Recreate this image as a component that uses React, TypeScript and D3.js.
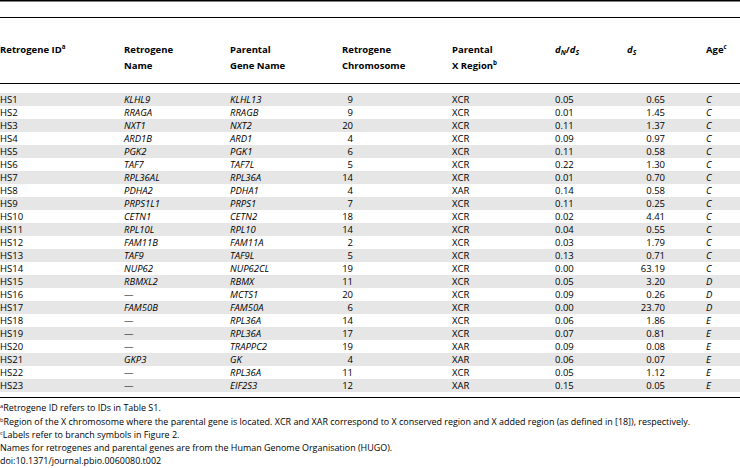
import React from "react";
import * as d3 from "d3";

const ids = ["HS1","HS2","HS3","HS4","HS5","HS6","HS7","HS8","HS9","HS10","HS11","HS12","HS13","HS14","HS15","HS16","HS17","HS18","HS19","HS20","HS21","HS22","HS23"];
const retroNames = ["KLHL9","RRAGA","NXT1","ARD1B","PGK2","TAF7","RPL36AL","PDHA2","PRPS1L1","CETN1","RPL10L","FAM11B","TAF9","NUP62","RBMXL2","—","FAM50B","—","—","—","GKP3","—","—"];
const parentalNames = ["KLHL13","RRAGB","NXT2","ARD1","PGK1","TAF7L","RPL36A","PDHA1","PRPS1","CETN2","RPL10","FAM11A","TAF9L","NUP62CL","RBMX","MCTS1","FAM50A","RPL36A","RPL36A","TRAPPC2","GK","RPL36A","EIF2S3"];
const chromosomes = [9,9,20,4,6,5,14,4,7,18,14,2,5,19,11,20,6,14,17,19,4,11,12];
const regions = ["XCR","XCR","XCR","XCR","XCR","XCR","XCR","XAR","XCR","XCR","XCR","XCR","XCR","XCR","XCR","XCR","XCR","XCR","XCR","XAR","XAR","XCR","XAR"];
const dnds = ["0.05","0.01","0.11","0.09","0.11","0.22","0.01","0.14","0.11","0.02","0.04","0.03","0.13","0.00","0.05","0.09","0.00","0.06","0.07","0.09","0.06","0.05","0.15"];
const ds = ["0.65","1.45","1.37","0.97","0.58","1.30","0.70","0.58","0.25","4.41","0.55","1.79","0.71","63.19","3.20","0.26","23.70","1.86","0.81","0.08","0.07","1.12","0.05"];
const ages = ["C","C","C","C","C","C","C","C","C","C","C","C","C","C","D","D","D","E","E","E","E","E","E"];

const W = 740;
const H = 468;
const FONT = "'Open Sans', 'Noto Sans', sans-serif";
const FS = 9.5;

export default function App() {
  const y = d3.scaleBand<string>().domain(ids).range([93, 392]).padding(0);
  const bh = y.bandwidth();
  const tx = (i: number) => (y(ids[i]) as number) + bh / 2 + 3.4;

  const footY = [411, 424.5, 438, 451, 464];

  return (
    <svg width={W} height={H} style={{ position: "absolute", left: 0, top: 0, background: "#fff" }} fontFamily={FONT} fontSize={FS} fill="#000">
      <rect x={0} y={0} width={W} height={H} fill="#fff" />
      <line x1={0} x2={W} y1={0.75} y2={0.75} stroke="#000" strokeWidth={1.5} />
      <line x1={0} x2={W} y1={17.5} y2={17.5} stroke="#000" strokeWidth={1} />
      <g fontWeight="bold">
        <text x={0} y={53}>Retrogene ID<tspan fontSize={6.2} dy={-4}>a</tspan></text>
        <text x={124} y={53}>Retrogene</text>
        <text x={124} y={69}>Name</text>
        <text x={230} y={53}>Parental</text>
        <text x={230} y={69}>Gene Name</text>
        <text x={342} y={53}>Retrogene</text>
        <text x={342} y={69}>Chromosome</text>
        <text x={452} y={53}>Parental</text>
        <text x={452} y={69}>X Region<tspan fontSize={6.2} dy={-4}>b</tspan></text>
        <text x={555} y={53}><tspan fontStyle="italic">d</tspan><tspan fontStyle="italic" fontSize={6.8} dy={2}>N</tspan><tspan dy={-2}>/</tspan><tspan fontStyle="italic">d</tspan><tspan fontStyle="italic" fontSize={6.8} dy={2}>S</tspan></text>
        <text x={627} y={53}><tspan fontStyle="italic">d</tspan><tspan fontStyle="italic" fontSize={6.8} dy={2}>S</tspan></text>
        <text x={706} y={53}>Age<tspan fontSize={6.2} dy={-4} fontStyle="italic">c</tspan></text>
      </g>
      <line x1={0} x2={W} y1={83.5} y2={83.5} stroke="#000" strokeWidth={1} />
      {ids.map((id, i) => (
        <g key={id}>
          {i % 2 === 0 && <rect x={0} y={y(id)} width={W} height={bh} fill="#e6e6e6" />}
          <text x={0} y={tx(i)}>{id}</text>
          <text x={124} y={tx(i)} fontStyle={retroNames[i] === "—" ? "normal" : "italic"}>{retroNames[i]}</text>
          <text x={230} y={tx(i)} fontStyle="italic">{parentalNames[i]}</text>
          <text x={353} y={tx(i)} textAnchor="end">{chromosomes[i]}</text>
          <text x={452} y={tx(i)}>{regions[i]}</text>
          <text x={555} y={tx(i)}>{dnds[i]}</text>
          <text x={665} y={tx(i)} textAnchor="end">{ds[i]}</text>
          <text x={706} y={tx(i)} fontStyle="italic">{ages[i]}</text>
        </g>
      ))}
      <line x1={0} x2={W} y1={397.5} y2={397.5} stroke="#000" strokeWidth={1} />
      <g fontSize={8.95}>
        <text x={0} y={footY[0]}><tspan fontSize={5.8} dy={-3}>a</tspan><tspan dy={3}>Retrogene ID refers to IDs in Table S1.</tspan></text>
        <text x={0} y={footY[1]}><tspan fontSize={5.8} dy={-3}>b</tspan><tspan dy={3}>Region of the X chromosome where the parental gene is located. XCR and XAR correspond to X conserved region and X added region (as defined in [18]), respectively.</tspan></text>
        <text x={0} y={footY[2]}><tspan fontSize={5.8} dy={-3}>c</tspan><tspan dy={3}>Labels refer to branch symbols in Figure 2.</tspan></text>
        <text x={0} y={footY[3]}>Names for retrogenes and parental genes are from the Human Genome Organisation (HUGO).</text>
        <text x={0} y={footY[4]}>doi:10.1371/journal.pbio.0060080.t002</text>
      </g>
    </svg>
  );
}
